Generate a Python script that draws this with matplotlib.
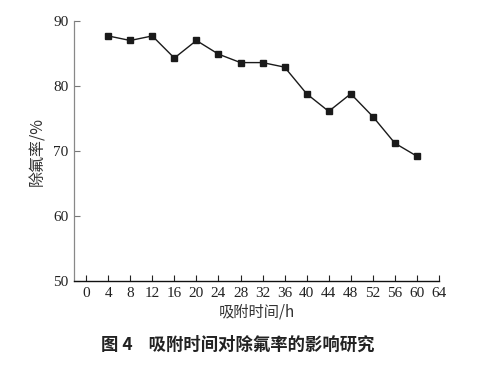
import matplotlib
matplotlib.use("Agg")
import matplotlib.pyplot as plt

# adsorption time (h) vs fluoride removal rate (%)
time_h = [4, 8, 12, 16, 20, 24, 28, 32, 36, 40, 44, 48, 52, 56, 60]
removal = [87.7, 87.0, 87.7, 84.3, 87.0, 84.9, 83.6, 83.6, 82.9, 78.8, 76.1, 78.8, 75.3, 71.2, 69.2]

x_ticks = list(range(0, 65, 4))
y_ticks = [50, 60, 70, 80, 90]

serif = "Liberation Serif"
cjk = ["Noto Sans CJK SC", "DejaVu Sans"]

fig = plt.figure(figsize=(4.98, 3.65), dpi=100)
ax = fig.add_axes([0.1486, 0.2301, 0.7329, 0.7124])

ax.plot(time_h, removal, color="#1a1a1a", linewidth=1.0,
        marker="s", markersize=4.5, markerfacecolor="#1a1a1a", markeredgecolor="#1a1a1a")

ax.set_xlim(-2.2, 64)
ax.set_ylim(50, 90)
ax.set_xticks(x_ticks)
ax.set_yticks(y_ticks)
ax.set_xticklabels([str(t) for t in x_ticks], fontfamily=serif, fontsize=11)
ax.set_yticklabels([str(t) for t in y_ticks], fontfamily=serif, fontsize=11)
ax.tick_params(direction="in", length=4, width=0.8, colors="#222222", pad=4)
ax.tick_params(axis="y", colors="#777777", labelcolor="#222222")

for side in ["top", "right"]:
    ax.spines[side].set_visible(False)
ax.spines["left"].set_color("#888888")
ax.spines["left"].set_linewidth(0.9)
ax.spines["bottom"].set_color("#111111")
ax.spines["bottom"].set_linewidth(1.0)

ax.set_xlabel("吸附时间/h", fontfamily=cjk, fontsize=11, color="#333333", labelpad=3)
ax.set_ylabel("除氟率/%", fontfamily=cjk, fontsize=11.5, color="#333333", labelpad=5)

fig.text(0.478, 0.055, "图 4    吸附时间对除氟率的影响研究", fontfamily=cjk,
         fontsize=12.5, fontweight="bold", color="#222222", ha="center", va="center")

fig.savefig("out.png", dpi=100)
